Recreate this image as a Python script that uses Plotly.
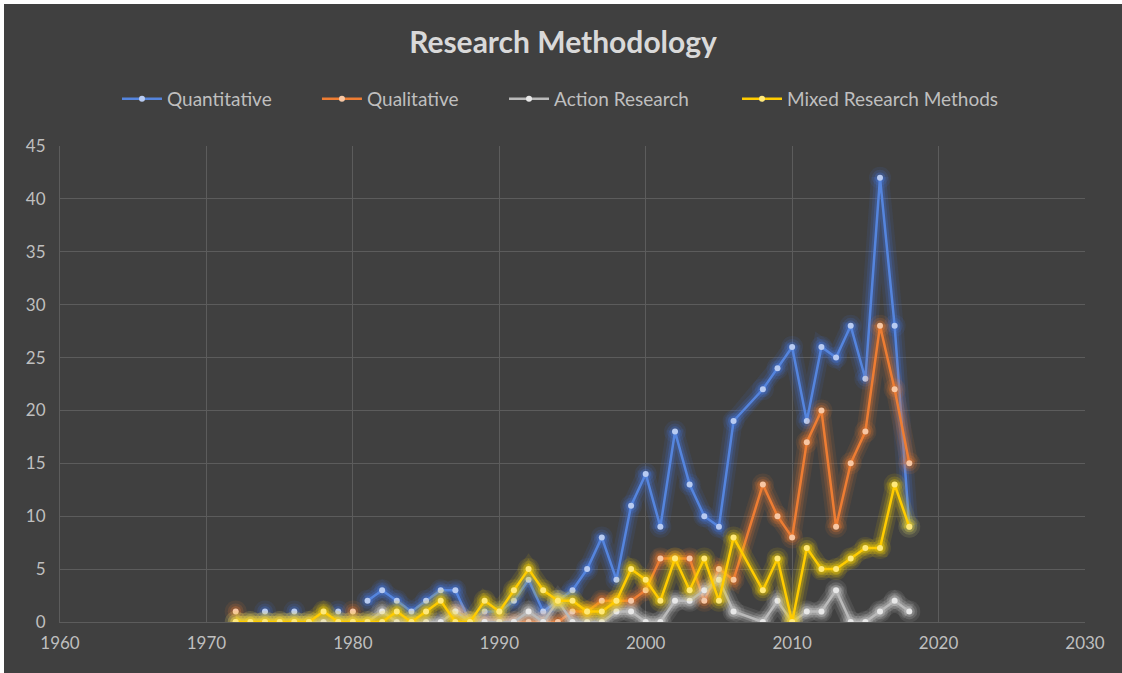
import plotly.graph_objects as go

years = list(range(1972, 2007)) + list(range(2008, 2019))

quantitative = [None, None, 1, None, 1, None, None, 1, None, 2, 3, 2, 1, 2, 3, 3, 0, 1, 1, 2,
                4, 1, 2, 3, 5, 8, 4, 11, 14, 9, 18, 13, 10, 9, 19,
                22, 24, 26, 19, 26, 25, 28, 23, 42, 28, 9]
qualitative = [1, None, None, None, None, None, None, None, 1, None, None, None, None, None, None,
               1, 0, 0, 0, 0, 0, 0, 0, 1, 1, 2, 2, 2, 3, 6, 6, 6, 2, 5, 4,
               13, 10, 8, 17, 20, 9, 15, 18, 28, 22, 15]
action_research = [0, 0, 0, 0, 0, 0, 0, 0, 0, 0, 1, 0, 0, 0, 0, 1, 0, 0, 0, 0,
                   1, 0, 2, 0, 0, 0, 1, 1, 0, 0, 2, 2, 3, 4, 1,
                   0, 2, 0, 1, 1, 3, 0, 0, 1, 2, 1]
mixed_methods = [0, 0, 0, 0, 0, 0, 1, 0, 0, 0, 0, 1, 0, 1, 2, 0, 0, 2, 1, 3,
                 5, 3, 2, 2, 1, 1, 2, 5, 4, 2, 6, 3, 6, 2, 8,
                 3, 6, 0, 7, 5, 5, 6, 7, 7, 13, 9]

series = [
    ("Quantitative", quantitative, "#5585de", "#b8cbf2", (70, 120, 225), 0.0556),
    ("Qualitative", qualitative, "#ee7d33", "#f8c7a3", (237, 125, 49), 0.2507),
    ("Action Research", action_research, "#bababa", "#e8e8e8", (215, 215, 215), 0.4332),
    ("Mixed Research Methods", mixed_methods, "#ffcc00", "#ffe97a", (255, 215, 0), 0.6605),
]

x_ticks = list(range(1960, 2031, 10))
y_ticks = list(range(0, 46, 5))

FONT = "Lato"
TXT = "#bfbfbf"
fig = go.Figure()
layout_legends = {}
for i, (name, vals, line_c, mark_c, glow_rgb, lx) in enumerate(series):
    r, g, b = glow_rgb
    for w, a in [(18, 0.10), (12, 0.16), (7, 0.26)]:
        fig.add_trace(go.Scatter(
            x=years, y=vals, mode="lines+markers", showlegend=False, hoverinfo="skip",
            line=dict(color=f"rgba({r},{g},{b},{a})", width=w),
            marker=dict(color=f"rgba({r},{g},{b},{a})", size=w + 4),
            connectgaps=False,
        ))
    key = "legend" if i == 0 else f"legend{i + 1}"
    fig.add_trace(go.Scatter(
        x=years, y=vals, mode="lines+markers", name=name, legend=key,
        line=dict(color=line_c, width=2.5),
        marker=dict(color=mark_c, size=6, line=dict(width=0)),
        connectgaps=False,
    ))
    layout_legends[key] = dict(orientation="h", x=lx, xanchor="left", y=1.0987, yanchor="middle",
                               font=dict(family=FONT, size=19, color=TXT),
                               bgcolor="rgba(0,0,0,0)", itemwidth=40)

fig.update_layout(
    width=1118, height=669,
    paper_bgcolor="#404040", plot_bgcolor="#404040",
    margin=dict(l=56, r=37, t=142, b=51),
    title=dict(text="<b>Research Methodology</b>", x=0.5, xanchor="center",
               y=1 - 38 / 669, yanchor="middle",
               font=dict(family=FONT, size=30, color="#d9d9d9")),
    xaxis=dict(range=[1960, 2030], tickvals=x_ticks, ticktext=[str(v) for v in x_ticks],
               showgrid=True, gridcolor="#5c5c5c", gridwidth=1, zeroline=False,
               showline=True, linecolor="#5c5c5c",
               tickfont=dict(family=FONT, size=17, color=TXT), ticks="",
               ticklabelstandoff=6),
    yaxis=dict(range=[0, 45], tickvals=y_ticks, showgrid=True, gridcolor="#5c5c5c",
               gridwidth=1, zeroline=False, showline=True, linecolor="#5c5c5c",
               tickfont=dict(family=FONT, size=17, color=TXT), ticks="",
               ticklabelstandoff=10),
    **layout_legends,
)

fig.write_html("out.html", post_script="document.body.style.margin='4px 0 0 4px';")
